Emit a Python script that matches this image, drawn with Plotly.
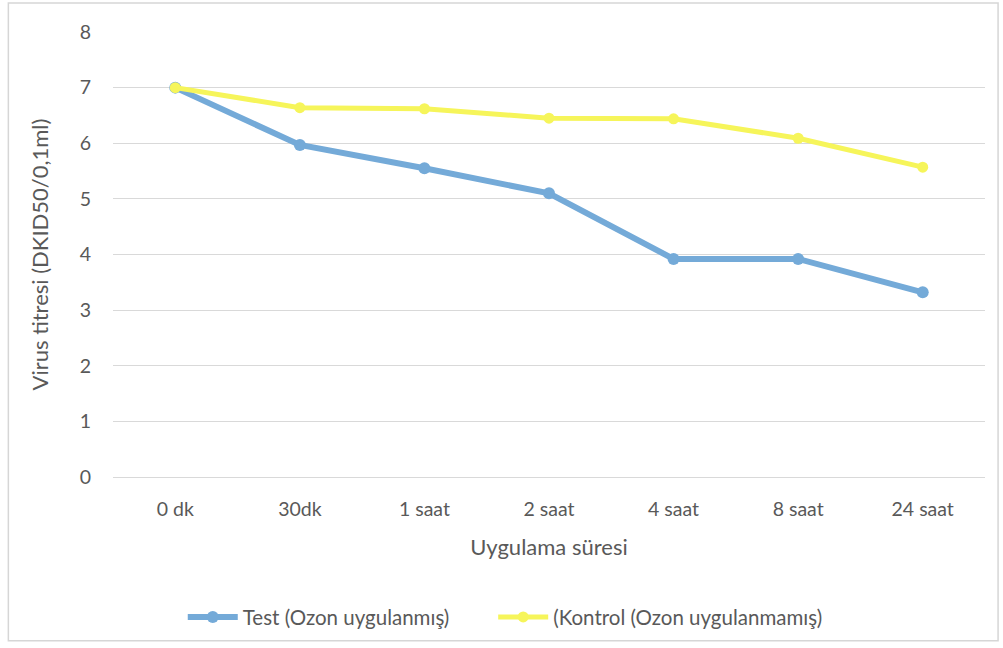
import plotly.graph_objects as go

# Exposure times and measured virus titres
categories = ["0 dk", "30dk", "1 saat", "2 saat", "4 saat", "8 saat", "24 saat"]
test_values = [7.0, 5.97, 5.55, 5.1, 3.92, 3.92, 3.32]
control_values = [7.0, 6.64, 6.62, 6.45, 6.44, 6.09, 5.57]
y_ticks = [0, 1, 2, 3, 4, 5, 6, 7, 8]

FONT = "Lato, 'Open Sans', sans-serif"
TEXT = "#595959"

fig = go.Figure()
fig.add_trace(go.Scatter(
    x=categories, y=test_values, mode="lines+markers",
    name="Test (Ozon uygulanmış)", legend="legend",
    line=dict(color="#74aad8", width=6),
    marker=dict(symbol="circle", size=12, color="#74aad8"),
))
fig.add_trace(go.Scatter(
    x=categories, y=control_values, mode="lines+markers",
    name="(Kontrol (Ozon uygulanmamış)", legend="legend2",
    line=dict(color="#f6f55a", width=5),
    marker=dict(symbol="circle", size=11, color="#f6f55a"),
))

legend_style = dict(orientation="h", xanchor="left", y=-0.312, yanchor="middle",
                    font=dict(size=20.5, color=TEXT), itemwidth=50,
                    bgcolor="rgba(0,0,0,0)")

fig.update_layout(
    width=1003, height=648,
    margin=dict(l=113, r=18, t=32, b=170),
    paper_bgcolor="white", plot_bgcolor="white",
    font=dict(family=FONT, color=TEXT, size=19),
    showlegend=True,
    legend=dict(x=0.08, **legend_style),
    legend2=dict(x=0.436, **legend_style),
    shapes=[dict(type="rect", xref="paper", yref="paper",
                 x0=-0.12, x1=1.015, y0=-0.368, y1=1.065,
                 line=dict(color="#d6d6d6", width=1.5), fillcolor="rgba(0,0,0,0)",
                 layer="below")],
)

fig.update_xaxes(
    type="category", range=[-0.5, 6.5],
    showgrid=False, showline=True, linecolor="#d9d9d9", linewidth=1,
    ticks="", ticklabelstandoff=15, tickfont=dict(size=19.5, color=TEXT),
    title=dict(text="Uygulama süresi", font=dict(size=22, color=TEXT), standoff=20),
)
fig.update_yaxes(
    range=[0, 8], tickvals=y_ticks, showgrid=True, gridcolor="#d9d9d9", gridwidth=1,
    zeroline=False, showline=False, ticks="", ticklabelstandoff=21,
    tickfont=dict(size=19.5, color=TEXT),
    title=dict(text="Virus titresi (DKID50/0,1ml)", font=dict(size=22, color=TEXT), standoff=24),
)

fig.write_html("out.html")
